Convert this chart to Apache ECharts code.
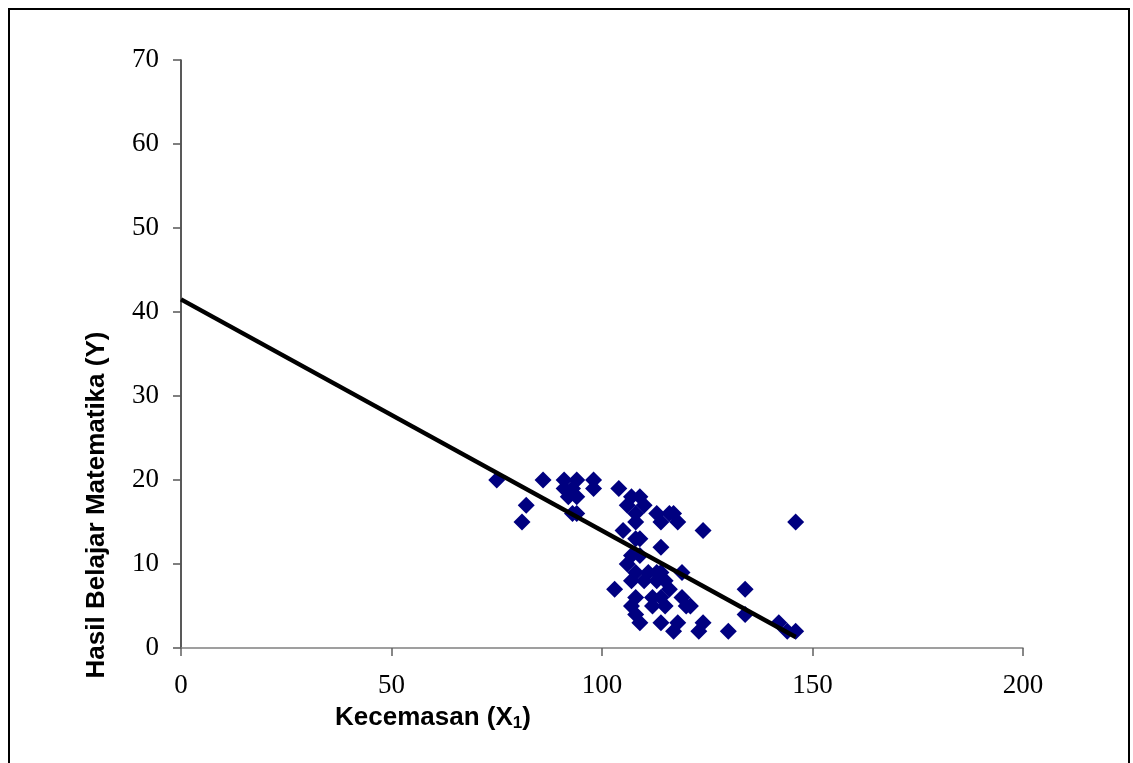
<!DOCTYPE html>
<html>
<head>
<meta charset="utf-8">
<script src="https://cdn.jsdelivr.net/npm/echarts@6/dist/echarts.min.js"></script>
<style>
html,body{margin:0;padding:0;background:#fff;}
#chart{width:1133px;height:763px;}
</style>
</head>
<body>
<div id="chart"></div>
<script>
// Kecemasan (X1) values
var xValues = [75,81,82,86,91,91,92,93,94,94,93,94,98,98,
  104,107,109,106,110,108,108,113,117,118,114,116,124,146,
  105,108,109,114,107,106,109,119,108,111,113,114,107,110,113,115,
  116,103,134,108,112,114,119,107,112,115,120,121,108,134,
  109,114,118,117,124,123,130,142,144,146];
// Hasil Belajar Matematika (Y) values
var yValues = [20,15,17,20,20,19,18,19,20,18,16,16,20,19,
  19,18,18,17,17,16,15,16,16,15,15,16,14,15,
  14,13,13,12,11,10,11,9,9,9,9,9,8,8,8,8,
  7,7,7,6,6,6,6,5,5,5,5,5,4,4,
  3,3,3,2,3,2,2,3,2,2];
// regression line end points
var lineX = [0, 146];
var lineY = [41.5, 1.3];
var xTicks = [0,50,100,150,200];
var yTicks = [0,10,20,30,40,50,60,70];

var scatterData = xValues.map(function(x,i){return [x,yValues[i]];});
var lineData = lineX.map(function(x,i){return [x,lineY[i]];});

var chart = echarts.init(document.getElementById('chart'));
chart.setOption({
  animation:false,
  backgroundColor:'#fff',
  grid:{left:181,right:110,top:60,bottom:115,containLabel:false},
  xAxis:{
    type:'value',min:xTicks[0],max:xTicks[xTicks.length-1],interval:50,
    axisLine:{show:true,lineStyle:{color:'#808080',width:1.5}},
    axisTick:{show:true,inside:false,length:8,lineStyle:{color:'#606060',width:1.5}},
    axisLabel:{fontFamily:'Liberation Serif',fontSize:27,color:'#000',margin:24},
    splitLine:{show:false}
  },
  yAxis:{
    type:'value',min:yTicks[0],max:yTicks[yTicks.length-1],interval:10,
    axisLine:{show:true,lineStyle:{color:'#222',width:1.5}},
    axisTick:{show:true,inside:false,length:8,lineStyle:{color:'#555',width:1.5}},
    axisLabel:{fontFamily:'Liberation Serif',fontSize:27,color:'#000',margin:22},
    splitLine:{show:false}
  },
  series:[
    {type:'scatter',data:scatterData,symbol:'diamond',symbolSize:17,
     itemStyle:{color:'#000080',opacity:1},z:2},
    {type:'line',data:lineData,showSymbol:false,symbol:'none',
     lineStyle:{color:'#000',width:4.5},z:3}
  ],
  graphic:[
    {type:'rect',shape:{x:9,y:9,width:1120,height:800},
     style:{fill:'none',stroke:'#000',lineWidth:2},silent:true},
    {type:'text',x:335,y:703,
     style:{text:'{t|Kecemasan (X}{s|1}{t|)}',rich:{
       t:{fontFamily:'Liberation Sans',fontWeight:'bold',fontSize:26,fill:'#000'},
       s:{fontFamily:'Liberation Sans',fontWeight:'bold',fontSize:17,fill:'#000',verticalAlign:'bottom',padding:[12,0,0,0]}
     }}},
    {type:'text',x:97,y:505,rotation:Math.PI/2,
     style:{text:'Hasil Belajar Matematika (Y)',fontFamily:'Liberation Sans',fontWeight:'bold',fontSize:26,fill:'#000',align:'center',verticalAlign:'middle'}}
  ]
});
</script>
</body>
</html>
